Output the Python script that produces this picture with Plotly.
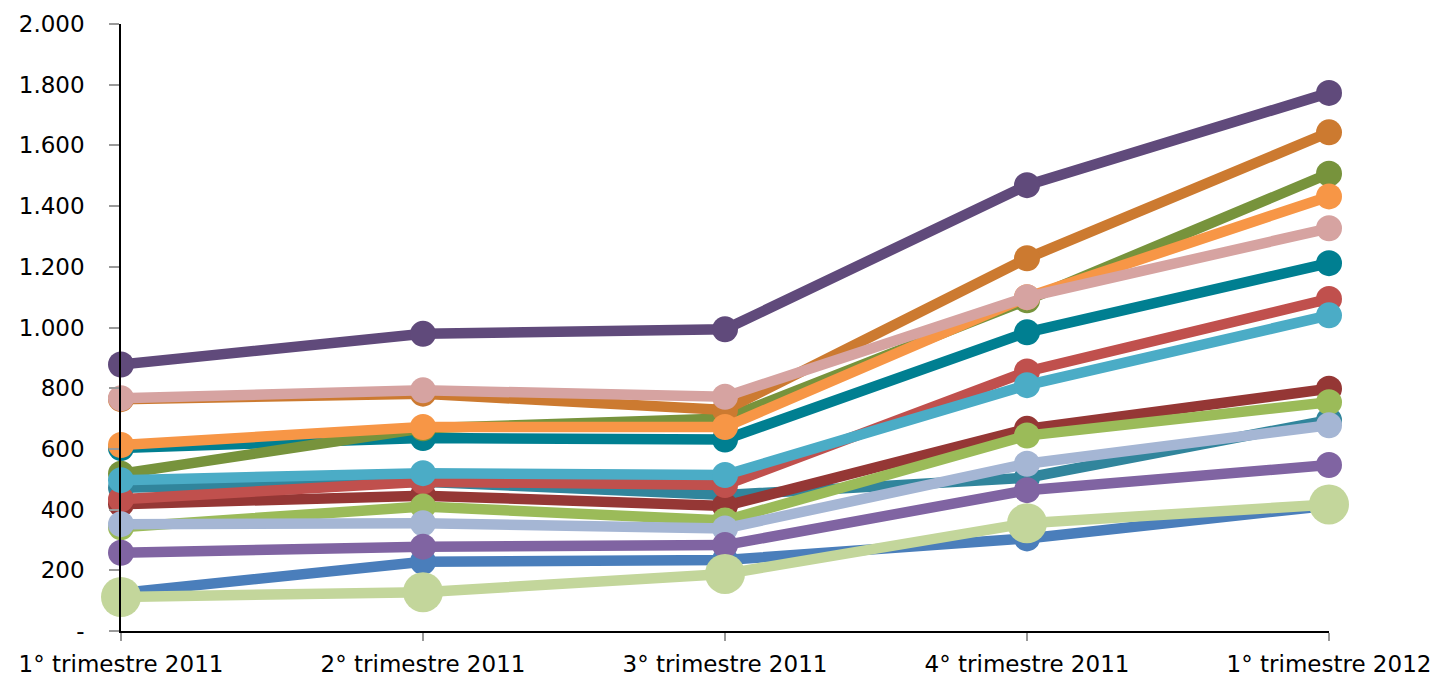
import plotly.graph_objects as go

quarters = ["1° trimestre 2011", "2° trimestre 2011", "3° trimestre 2011",
            "4° trimestre 2011", "1° trimestre 2012"]

# Series values per quarter (drawn bottom to top in this order)
blue = [125, 228, 234, 305, 413]
teal_light = [472, 492, 448, 505, 695]
dark_red = [418, 446, 412, 666, 798]
red = [434, 492, 481, 855, 1094]
light_green = [342, 410, 364, 644, 754]
light_blue = [352, 355, 338, 551, 678]
purple = [258, 278, 283, 464, 547]
teal = [603, 636, 631, 984, 1212]
olive = [518, 668, 700, 1090, 1507]
dark_orange = [764, 782, 728, 1228, 1643]
orange = [613, 672, 672, 1100, 1432]
pink = [767, 793, 772, 1100, 1327]
cyan = [497, 520, 514, 810, 1040]
dark_purple = [878, 979, 994, 1469, 1773]
pale_green = [112, 128, 188, 355, 417]

series = [
    (blue, "#4A7EBB", 26),
    (teal_light, "#31859C", 26),
    (dark_red, "#953735", 26),
    (red, "#C0504D", 26),
    (light_green, "#9BBB59", 26),
    (light_blue, "#A5B6D4", 26),
    (purple, "#8064A2", 26),
    (teal, "#007F91", 26),
    (olive, "#77933C", 26),
    (dark_orange, "#CC7A30", 26),
    (orange, "#F79646", 26),
    (pink, "#D6A3A1", 26),
    (cyan, "#4BACC6", 26),
    (dark_purple, "#604A7B", 26),
    (pale_green, "#C3D69B", 40),
]

fig = go.Figure()
for values, color, msize in series:
    fig.add_trace(go.Scatter(
        x=quarters, y=values, mode="lines+markers",
        line=dict(color=color, width=10.5),
        marker=dict(color=color, size=msize, line=dict(width=0)),
        cliponaxis=False, showlegend=False, hoverinfo="y",
    ))

tick_vals = [0, 200, 400, 600, 800, 1000, 1200, 1400, 1600, 1800, 2000]
tick_text = ["-", "200", "400", "600", "800", "1.000", "1.200", "1.400",
             "1.600", "1.800", "2.000"]

fig.update_layout(
    width=1444, height=680,
    margin=dict(l=121, r=115, t=24, b=49, pad=0, autoexpand=False),
    paper_bgcolor="white", plot_bgcolor="white",
    font=dict(family="DejaVu Sans, Arial, sans-serif", size=23, color="black"),
    xaxis=dict(
        type="category", range=[0, 4], showgrid=False, zeroline=False,
        showline=True, linecolor="black", linewidth=1.5,
        ticks="outside", ticklen=8, tickcolor="#999999", tickwidth=1.5,
        ticklabelstandoff=4, automargin=False,
    ),
    yaxis=dict(
        range=[0, 2000], tickvals=tick_vals, ticktext=tick_text,
        showgrid=False, zeroline=False,
        showline=True, linecolor="black", linewidth=1.5,
        ticks="outside", ticklen=10, tickcolor="#999999", tickwidth=1.5,
        ticklabelstandoff=20, automargin=False,
    ),
)

fig.write_html("out.html")
